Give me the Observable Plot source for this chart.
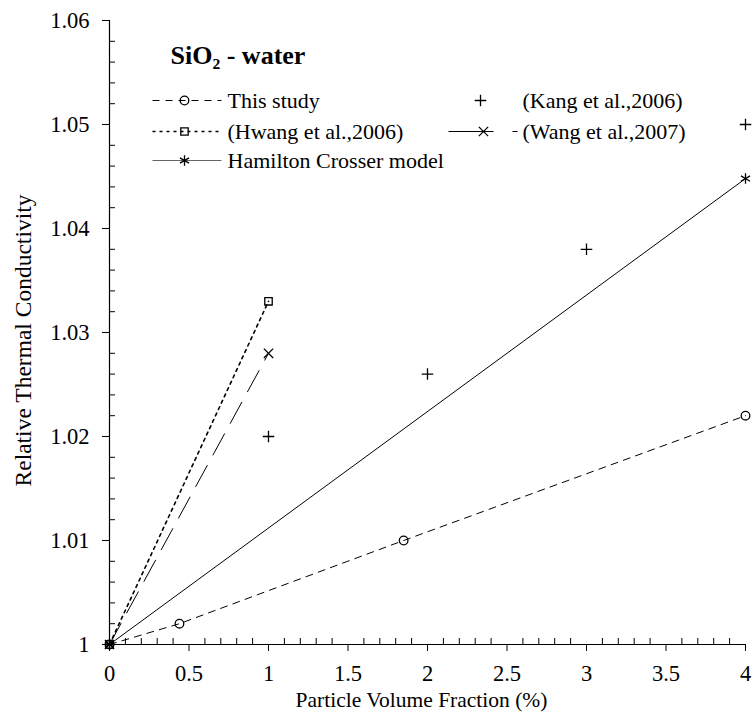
<!DOCTYPE html>
<html>
<head>
<meta charset="utf-8">
<script src="https://cdn.jsdelivr.net/npm/d3@7"></script>
<script src="https://cdn.jsdelivr.net/npm/@observablehq/plot@0.6"></script>
<style>
  body { margin: 0; background: #fff; }
  #chart svg { display: block; }
</style>
</head>
<body>
<div id="chart"></div>
<script>
// ---- data ----
const studyX = [0, 0.44, 1.85, 4];
const studyY = [1, 1.002, 1.010, 1.022];

const kangX = [1, 2, 3, 4];
const kangY = [1.020, 1.026, 1.038, 1.050];

const hwangX = [0, 1];
const hwangY = [1, 1.033];

const wangX = [0, 1];
const wangY = [1, 1.028];

const hcX = [0, 4];
const hcY = [1, 1.0448];

const seriesNames = ["This study", "(Kang et al.,2006)", "(Hwang et al.,2006)", "(Wang et al.,2007)", "Hamilton Crosser model"];

const xTicks = [0, 0.5, 1, 1.5, 2, 2.5, 3, 3.5, 4];
const xTickLabels = ["0", "0.5", "1", "1.5", "2", "2.5", "3", "3.5", "4"];
const yTicks = [1, 1.01, 1.02, 1.03, 1.04, 1.05, 1.06];
const yTickLabels = ["1", "1.01", "1.02", "1.03", "1.04", "1.05", "1.06"];

const xTitle = "Particle Volume Fraction (%)";
const yTitle = "Relative Thermal Conductivity";
const chartTitle = "SiO\u2082 - water";

// ---- layout ----
const W = 755, H = 714;
const M = {top: 20, right: 10, bottom: 70, left: 109};
const xDomain = [0, 4], yDomain = [1, 1.06];
const FONT = "'Liberation Serif', 'Times New Roman', serif";
const FS = 22;      // legend text
const FS_TICK = 22.5;

const zip = (xs, ys) => xs.map((x, i) => ({x, y: ys[i]}));
const study = zip(studyX, studyY);
const kang = zip(kangX, kangY);
const hwang = zip(hwangX, hwangY);
const wang = zip(wangX, wangY);
const hc = zip(hcX, hcY);

// minor ticks (every 0.1 on x, every 0.002 on y), skipping the major ones
const xMinor = d3.range(0, 41).map(i => i / 10).filter((_, i) => i % 5 !== 0);
const yMinor = d3.range(0, 31).map(i => 1 + i * 0.002).filter((_, i) => i % 5 !== 0);

// pixel -> data helpers used to place the in-plot legend
const px = d3.scaleLinear().domain(xDomain).range([M.left, W - M.right]);
const py = d3.scaleLinear().domain(yDomain).range([H - M.bottom, M.top]);
const lx = v => px.invert(v), ly = v => py.invert(v);

const styles = {
  study: {dash: "7,6", symbol: "circle", r: 4.3},
  kang:  {dash: null, symbol: "plus", r: 3.8},
  hwang: {dash: "3,4", symbol: "square", r: 4.2},
  wang:  {dash: "24,12", symbol: "times", r: 4.3},
  hc:    {dash: null, symbol: "asterisk", r: 5}
};

// legend rows: [name, style key, lineStart, lineEnd, marker, textX, rowY] (pixels)
const legendRows = [
  [seriesNames[0], "study", 152, 221, 184, 227, 100],
  [seriesNames[2], "hwang", 152, 221, 184, 227, 131],
  [seriesNames[4], "hc",    152, 221, 184, 227, 160],
  [seriesNames[1], "kang",  null, null, 480, 522, 100],
  [seriesNames[3], "wang",  448, 493, 483, 522, 131]
];

const legendMarks = [];
for (const [name, key, x1, x2, xm, xt, yr] of legendRows) {
  const s = styles[key];
  if (x1 != null) {
    legendMarks.push(Plot.link([0], {
      x1: () => lx(x1), x2: () => lx(x2), y1: () => ly(yr), y2: () => ly(yr),
      stroke: key === "hc" ? "#666" : "black", strokeWidth: key === "hwang" ? 1.6 : 1,
      strokeDasharray: key === "wang" ? null : s.dash
    }));
  }
  if (key === "wang") {
    legendMarks.push(Plot.link([0], {
      x1: () => lx(512), x2: () => lx(517), y1: () => ly(yr), y2: () => ly(yr),
      stroke: "black", strokeWidth: 1
    }));
  }
  legendMarks.push(Plot.dot([0], {
    x: () => lx(xm), y: () => ly(yr), symbol: s.symbol, r: s.r,
    stroke: "black", strokeWidth: 1.3, fill: "none"
  }));
  legendMarks.push(Plot.text([name], {
    x: () => lx(xt), y: () => ly(yr), text: d => d, textAnchor: "start",
    fontSize: FS, fontFamily: FONT, fill: "black"
  }));
}

const seriesMarks = (data, key, width = 1) => {
  const s = styles[key];
  const out = [];
  if (key !== "kang") {
    out.push(Plot.line(data, {x: "x", y: "y", stroke: "black", strokeWidth: width, strokeDasharray: s.dash}));
  }
  out.push(Plot.dot(data, {x: "x", y: "y", symbol: s.symbol, r: s.r, stroke: "black", strokeWidth: 1.3, fill: "none"}));
  return out;
};

const chart = Plot.plot({
  width: W,
  height: H,
  marginTop: M.top,
  marginRight: M.right,
  marginBottom: M.bottom,
  marginLeft: M.left,
  style: {fontFamily: FONT, background: "white", color: "black", overflow: "visible"},
  x: {domain: xDomain, label: null},
  y: {domain: yDomain, label: null},
  marks: [
    // axis lines
    Plot.ruleX([0], {y1: yDomain[0], y2: yDomain[1], stroke: "black", strokeWidth: 1.2}),
    Plot.ruleY([1], {x1: xDomain[0], x2: xDomain[1], stroke: "black", strokeWidth: 1.2}),
    // major ticks (outward) with labels
    Plot.axisY({ticks: yTicks, tickSize: 7, tickPadding: 13, fontSize: FS_TICK,
      tickFormat: d => yTickLabels[yTicks.indexOf(d)], label: null}),
    Plot.axisX({ticks: xTicks, tickSize: 7, tickPadding: 14, fontSize: FS_TICK,
      tickFormat: d => xTickLabels[xTicks.indexOf(d)], label: null}),
    // minor ticks (inward)
    Plot.axisY({ticks: yMinor, tickSize: -6, fill: "none", label: null}),
    Plot.axisX({ticks: xMinor, tickSize: -6, fill: "none", label: null}),
    // axis titles
    Plot.text([yTitle], {frameAnchor: "left", dx: -86, dy: 8, rotate: -90, textAnchor: "middle",
      lineAnchor: "middle", fontSize: 23.5, fontFamily: FONT, fill: "black"}),
    Plot.text([xTitle], {frameAnchor: "bottom", dy: 56, dx: -6, textAnchor: "middle",
      lineAnchor: "middle", fontSize: 21.5, fontFamily: FONT, fill: "black"}),
    // series
    ...seriesMarks(hc, "hc"),
    ...seriesMarks(study, "study"),
    ...seriesMarks(hwang, "hwang", 1.6),
    ...seriesMarks(wang, "wang"),
    ...seriesMarks(kang, "kang"),
    // chart title and legend
    Plot.text([chartTitle], {x: () => lx(170), y: () => ly(55), text: d => d, textAnchor: "start",
      fontSize: 26, fontWeight: "bold", fontFamily: FONT, fill: "black"}),
    ...legendMarks
  ]
});

document.getElementById("chart").appendChild(chart);
</script>
</body>
</html>
